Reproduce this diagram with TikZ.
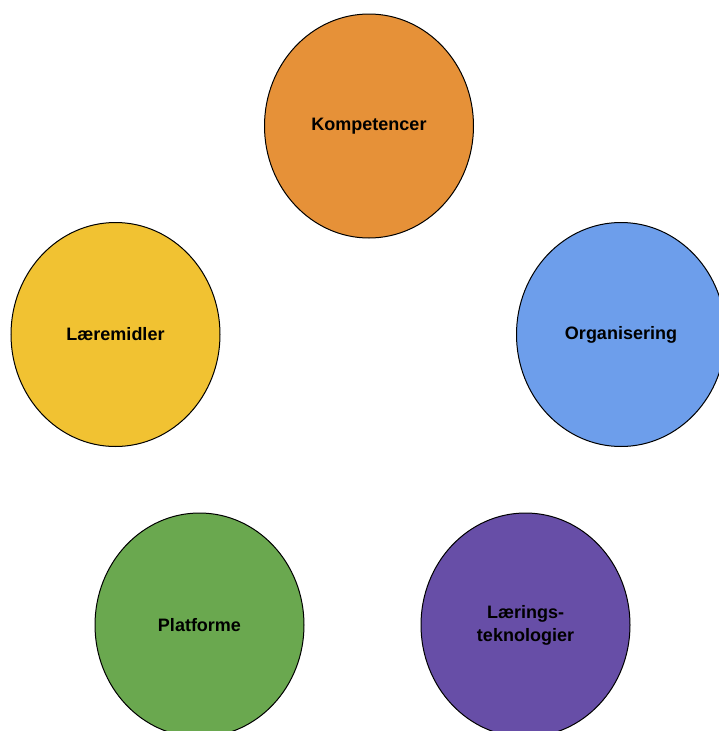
\documentclass[tikz,border=0pt]{standalone}
\usepackage{fontspec}
\setmainfont{Liberation Sans}
\usetikzlibrary{shapes.geometric}
\definecolor{korange}{HTML}{E69138}
\definecolor{kblue}{HTML}{6D9EEB}
\definecolor{kyellow}{HTML}{F1C232}
\definecolor{kgreen}{HTML}{6AA84F}
\definecolor{kpurple}{HTML}{674EA7}
\tikzset{
  bubble/.style={ellipse, draw=black, line width=1pt, minimum width=209pt, minimum height=224pt,
    inner sep=0pt, align=center, font=\fontsize{18}{23}\selectfont\bfseries}
}
\begin{document}
\begin{tikzpicture}[x=1pt,y=-1pt]
\useasboundingbox (0,0) rectangle (718,731);
\fill[white] (0,0) rectangle (718,731);
\node[bubble, fill=korange] (komp) at (369,126) {Kompetencer};
\node[bubble, fill=kyellow] (laer) at (115.5,334.5) {Læremidler};
\node[bubble, fill=kblue] (org) at (621,334.5) {Organisering};
\node[bubble, fill=kgreen] (plat) at (199.5,625) {Platforme};
\node[bubble, fill=kpurple] (ltek) at (525.5,625) {Lærings-\\teknologier};
\end{tikzpicture}
\end{document}
